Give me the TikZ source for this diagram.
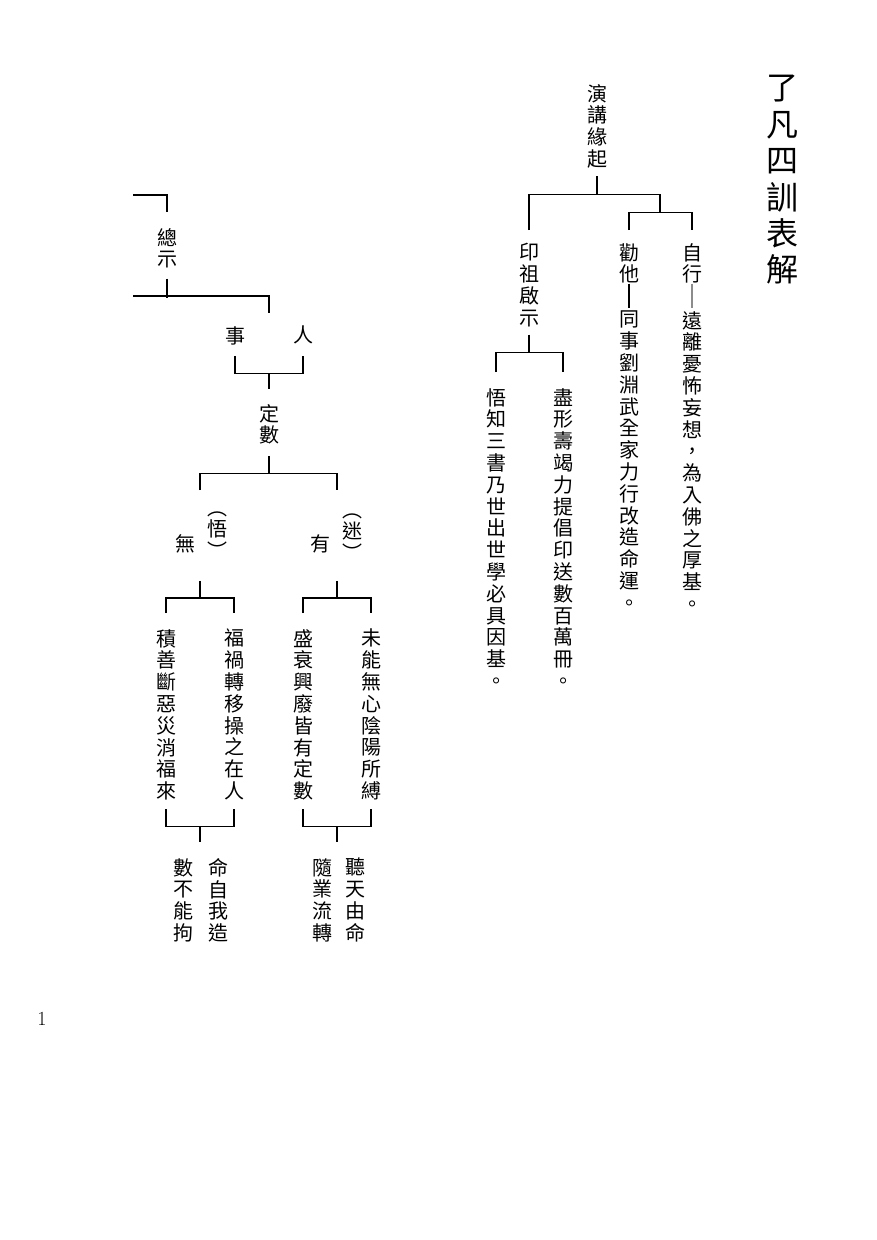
\documentclass[tikz,border=0pt]{standalone}
\usepackage{fontspec}
\newfontfamily\cjk{Noto Sans CJK TC}
\usetikzlibrary{calc}
\tikzset{
  % colonna di testo verticale
  vcol/.style={font={\cjk\fontsize{20}{21.8}\selectfont}, align=center, inner sep=0pt, anchor=north},
  % parentesi verticali attorno a un carattere
  paren/.style={vcol, anchor=center},
  % titolo
  headcol/.style={font={\cjk\fontsize{32}{36.4}\selectfont}, align=center, inner sep=0pt},
  % linee dello schema
  link/.style={line width=1.2pt},
  faint/.style={link, black!45},
}

\begin{document}
\begin{tikzpicture}[x=1pt, y=-1pt]
  \useasboundingbox (0,0) rectangle (876,1240);
  % titolo
  \node[headcol] (titolo) at (782,180) {了\\凡\\四\\訓\\表\\解};
  % ramo di destra
  \node[vcol] (yanjiang) at (597,84) {演\\講\\緣\\起};
  \node[vcol] (yinzu) at (529,243) {印\\祖\\啟\\示};
  \node[vcol] (quanta) at (629,243) {勸\\他};
  \node[vcol] (zixing) at (692,243) {自\\行};
  \node[vcol] (tongshi) at (629,311) {同\\事\\劉\\淵\\武\\全\\家\\力\\行\\改\\造\\命\\運\\。};
  \node[vcol] (yuanli) at (692,311) {遠\\離\\憂\\怖\\妄\\想\\，\\為\\入\\佛\\之\\厚\\基\\。};
  \node[vcol] (wuzhi) at (496,388) {悟\\知\\三\\書\\乃\\世\\出\\世\\學\\必\\具\\因\\基\\。};
  \node[vcol] (jinxing) at (563,388) {盡\\形\\壽\\竭\\力\\提\\倡\\印\\送\\數\\百\\萬\\冊\\。};
  \draw[link] ([yshift=-8pt]yanjiang.south) -- ++(0,18) coordinate (j1);
  \draw[link] ([yshift=13pt]yinzu.north) |- (j1) -| ++(63,18) coordinate (j2);
  \draw[link] ([yshift=13pt]quanta.north) |- (j2) -| ([yshift=13pt]zixing.north);
  \draw[link] (quanta.south) -- ([yshift=3pt]tongshi.north);
  \draw[faint] (zixing.south) -- ([yshift=3pt]yuanli.north);
  \draw[link] ([yshift=-8pt]yinzu.south) -- ++(0,18) coordinate (j3);
  \draw[link] ([yshift=16pt]wuzhi.north) |- (j3) -| ([yshift=16pt]jinxing.north);
  % ramo di sinistra
  \node[vcol] (zongshi) at (167,228) {總\\示};
  \node[vcol] (shi) at (235,326) {事};
  \node[vcol] (ren) at (303,326) {人};
  \node[vcol] (dingshu) at (269,404) {定\\數};
  \node[vcol] (wu) at (185,534) {無};
  \node[paren] (wuwu) at (217,535) {︵\\悟\\︶};
  \node[vcol] (you) at (320,534) {有};
  \node[paren] (mimi) at (352,537) {︵\\迷\\︶};
  \node[vcol] (jishan) at (166,629) {積\\善\\斷\\惡\\災\\消\\福\\來};
  \node[vcol] (fuhuo) at (234,629) {福\\禍\\轉\\移\\操\\之\\在\\人};
  \node[vcol] (shengshuai) at (303,629) {盛\\衰\\興\\廢\\皆\\有\\定\\數};
  \node[vcol] (weineng) at (371,629) {未\\能\\無\\心\\陰\\陽\\所\\縛};
  \node[vcol] (shubu) at (183,858) {數\\不\\能\\拘};
  \node[vcol] (mingzi) at (218,858) {命\\自\\我\\造};
  \node[vcol] (suiye) at (322,858) {隨\\業\\流\\轉};
  \node[vcol] (tingtian) at (355,858) {聽\\天\\由\\命};
  \coordinate (z0) at (133,195);
  \coordinate (z2) at (133,296);
  \draw[link] (z0) -| ([yshift=16pt]zongshi.north);
  \draw[link] ([yshift=-10pt]zongshi.south) -- ++(0,19);
  \draw[link] (z2) -| ([yshift=13pt]$(shi.north)!.5!(ren.north)$);
  \draw[link] ([yshift=-11pt]shi.south) -- ++(0,18) -| ([yshift=-11pt]ren.south);
  \draw[link] ($(shi.south)!.5!(ren.south)$) ++(0,29) -- ([yshift=15pt]dingshu.north);
  \draw[link] ([yshift=-11pt]dingshu.south) -- ++(0,18) coordinate (d1);
  \draw[link] ([xshift=15pt,yshift=44pt]wu.north) |- (d1) -| ([xshift=17pt,yshift=44pt]you.north);
  \draw[link] ([xshift=15pt,yshift=-28pt]wu.south) -- ++(0,17) coordinate (w1);
  \draw[link] ([yshift=16pt]jishan.north) |- (w1) -| ([yshift=16pt]fuhuo.north);
  \draw[link] ([xshift=17pt,yshift=-28pt]you.south) -- ++(0,17) coordinate (m1);
  \draw[link] ([yshift=16pt]shengshuai.north) |- (m1) -| ([yshift=16pt]weineng.north);
  \draw[link] ([yshift=-9pt]jishan.south) -- ++(0,17) -| ([yshift=-9pt]fuhuo.south);
  \draw[link] ($(jishan.south)!.5!(fuhuo.south)$) ++(0,26) -- ++(0,16);
  \draw[link] ([yshift=-9pt]shengshuai.south) -- ++(0,17) -| ([yshift=-9pt]weineng.south);
  \draw[link] ($(shengshuai.south)!.5!(weineng.south)$) ++(0,26) -- ++(0,16);
  % numero di pagina
  \node[font={\fontsize{20}{24}\selectfont}] (pagina) at (42,1019) {1};
\end{tikzpicture}
\end{document}
